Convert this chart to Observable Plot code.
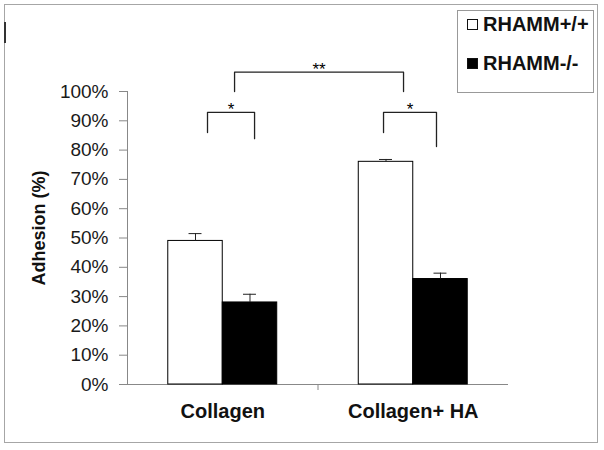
<!DOCTYPE html>
<html>
<head>
<meta charset="utf-8">
<script src="https://cdn.jsdelivr.net/npm/d3@7"></script>
<script src="https://cdn.jsdelivr.net/npm/@observablehq/plot@0.6"></script>
<style>
  html, body { margin: 0; padding: 0; background: #fff; }
  #wrap { position: relative; width: 604px; height: 450px; font-family: "Liberation Sans", Arial, sans-serif; }
  #border { position: absolute; left: 4px; top: 4px; width: 592px; height: 437px; border: 1px solid #a6a6a6; }
  #mark { position: absolute; left: 4px; top: 22px; width: 2px; height: 21px; background: #333; }
  #legend { position: absolute; left: 457px; top: 10px; width: 135px; height: 81px; border: 1px solid #999; background: #fff; }
  .item { position: absolute; left: 9px; height: 20px; display: flex; align-items: center; font-weight: bold; font-size: 20px; color: #111; white-space: nowrap; }
  .sw { width: 9px; height: 9px; border: 1px solid #111; margin-right: 5px; }
  svg { position: absolute; left: 0; top: 0; }
</style>
</head>
<body>
<div id="wrap">
  <div id="border"></div>
  <div id="mark"></div>
</div>
<script>
// ---- data ----
const categories = ["Collagen", "Collagen+ HA"];
const seriesNames = ["RHAMM+/+", "RHAMM-/-"];
const wildtype = [49, 76];
const wildtypeErr = [2.5, 0.8];
const knockout = [28, 36];
const knockoutErr = [2.8, 2.0];
const yTicks = [0, 10, 20, 30, 40, 50, 60, 70, 80, 90, 100];
// significance brackets (x in category units, y in %)
const bracketLabels = ["*", "*", "**"];
const bracketX1 = [0.42, 1.344, 0.562];
const bracketX2 = [0.667, 1.622, 1.449];
const bracketTop = [92.9, 92.9, 106.6];
const bracketLeftEnd = [86, 86, 100];
const bracketRightEnd = [83.9, 81.2, 100];

// ---- build tables ----
const half = 0.286;
const bars = [];
categories.forEach((c, i) => {
  const center = i + 0.5;
  bars.push({cat: c, series: seriesNames[0], x1: center - half, x2: center, value: wildtype[i], err: wildtypeErr[i]});
  bars.push({cat: c, series: seriesNames[1], x1: center, x2: center + half, value: knockout[i], err: knockoutErr[i]});
});
bars.forEach(d => { d.mid = (d.x1 + d.x2) / 2; d.top = d.value + d.err; });
const capHalf = 0.034;

const bracketPts = [];
bracketLabels.forEach((lab, i) => {
  bracketPts.push({b: i, x: bracketX1[i], y: bracketLeftEnd[i]});
  bracketPts.push({b: i, x: bracketX1[i], y: bracketTop[i]});
  bracketPts.push({b: i, x: bracketX2[i], y: bracketTop[i]});
  bracketPts.push({b: i, x: bracketX2[i], y: bracketRightEnd[i]});
});
const bracketText = bracketLabels.map((lab, i) => ({label: lab, x: (bracketX1[i] + bracketX2[i]) / 2, y: bracketTop[i]}));
const catLabels = categories.map((c, i) => ({label: c, x: i + 0.5}));

const chart = Plot.plot({
  width: 604,
  height: 450,
  marginLeft: 127,
  marginRight: 96,
  marginTop: 91,
  marginBottom: 66,
  style: {fontFamily: "'Liberation Sans', Arial, sans-serif", background: "transparent", overflow: "visible"},
  x: {domain: [0, 2], axis: null},
  y: {domain: [0, 100], axis: null},
  marks: [
    // y axis
    Plot.axisY(yTicks, {tickSize: 8, tickPadding: 11, tickFormat: d => d + "%", fontSize: 19, stroke: "#888", fill: "#1a1a1a", label: null}),
    Plot.ruleX([0], {y1: 0, y2: 100, stroke: "#888"}),
    // x axis
    Plot.ruleY([0], {x1: 0, x2: 2, stroke: "#888"}),
    Plot.axisX([1], {tickSize: 6, tickFormat: () => "", stroke: "#888", label: null}),
    // bars
    Plot.rectY(bars, {x1: "x1", x2: "x2", y1: 0, y2: "value", fill: d => d.series === seriesNames[0] ? "#fff" : "#000", stroke: "#000", strokeWidth: 1}),
    // error bars (upper only)
    Plot.ruleX(bars, {x: "mid", y1: "value", y2: "top", stroke: "#222"}),
    Plot.ruleY(bars, {y: "top", x1: d => d.mid - capHalf, x2: d => d.mid + capHalf, stroke: "#222"}),
    // brackets
    Plot.line(bracketPts, {x: "x", y: "y", z: "b", stroke: "#222", strokeWidth: 1.3, curve: "linear"}),
    Plot.text(bracketText, {x: "x", y: "y", text: "label", lineAnchor: "bottom", dy: 3, fontSize: 17, fill: "#000"}),
    // category labels
    Plot.text(catLabels, {x: "x", y: 0, text: "label", dy: 27, fontSize: 20, fontWeight: "bold", fill: "#111"}),
    // y label
    Plot.text(["Adhesion (%)"], {frameAnchor: "middle", rotate: -90, dx: -279, dy: -10, fontSize: 18, fontWeight: "bold", fill: "#111"})
  ]
});
const wrap = document.getElementById("wrap");
wrap.appendChild(chart);

// legend (HTML)
const legend = document.createElement("div");
legend.id = "legend";
const legendFills = ["#fff", "#000"];
const legendTops = [23, 62];
seriesNames.forEach((s, i) => {
  const it = document.createElement("div");
  it.className = "item";
  it.style.top = legendTops[i] - 10 - 10 + "px";
  const sw = document.createElement("div");
  sw.className = "sw";
  sw.style.background = legendFills[i];
  it.appendChild(sw);
  it.appendChild(document.createTextNode(s));
  legend.appendChild(it);
});
wrap.appendChild(legend);
</script>
</body>
</html>
